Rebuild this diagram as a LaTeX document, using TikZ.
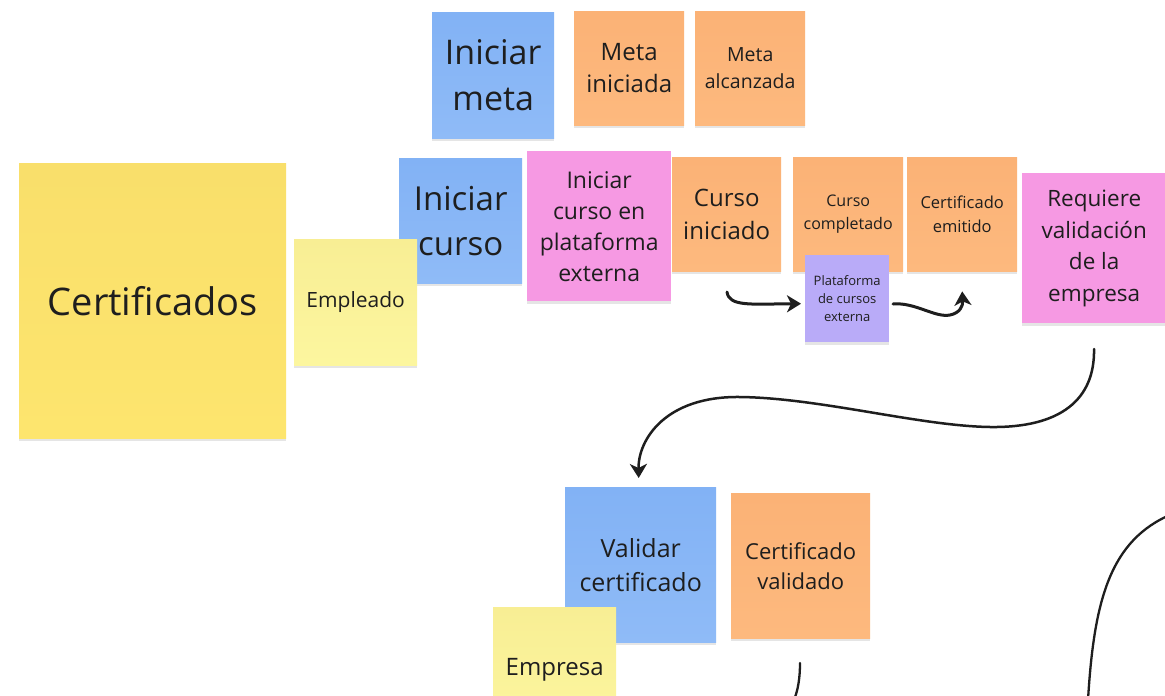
\documentclass[tikz,border=0pt]{standalone}
\usepackage{fontspec}
\setmainfont{Open Sans}
\usetikzlibrary{arrows.meta,shadows}
\definecolor{ink}{HTML}{1E1E1E}
\definecolor{cblue}{HTML}{82B2F5}
\definecolor{cblueb}{HTML}{8FBBF7}
\definecolor{corange}{HTML}{FBB276}
\definecolor{corangeb}{HTML}{FDB97E}
\definecolor{cpink}{HTML}{F699E3}
\definecolor{cyel}{HTML}{F9DF6B}
\definecolor{cyelb}{HTML}{FDE56E}
\definecolor{clyel}{HTML}{F8EE94}
\definecolor{clyelb}{HTML}{FCF69F}
\definecolor{cpurp}{HTML}{B9ABF8}
\tikzset{
  note/.style={anchor=north west, inner sep=0pt, align=center, text=ink,
    drop shadow={shadow xshift=0pt, shadow yshift=-3pt, opacity=0.10, fill=black}},
  bluenote/.style={note, top color=cblue, bottom color=cblueb},
  orangenote/.style={note, top color=corange, bottom color=corangeb},
  pinknote/.style={note, fill=cpink},
  yelnote/.style={note, top color=cyel, bottom color=cyelb},
  lyelnote/.style={note, top color=clyel, bottom color=clyelb},
  purpnote/.style={note, fill=cpurp},
  arr/.style={-{Stealth[length=14pt,width=17pt,inset=4pt]}, line width=3pt, line cap=round, draw=ink},
  lin/.style={line width=2.3pt, line cap=round, draw=ink},
}
\begin{document}
\begin{tikzpicture}[x=1pt,y=-1pt]
\useasboundingbox (0,0) rectangle (1165,696);
\clip (0,0) rectangle (1165,696);
\fill[white] (0,0) rectangle (1165,696);

\node[yelnote, minimum width=267pt, minimum height=275pt, font=\fontsize{38}{52}\selectfont] (cert) at (19,163) {Certificados};
\node[bluenote, minimum width=123pt, minimum height=125pt, font=\fontsize{33}{45}\selectfont] (icurso) at (399,158) {Iniciar\\curso};
\node[lyelnote, minimum width=123pt, minimum height=126pt, font=\fontsize{21}{29}\selectfont] (emp) at (294,239) {Empleado};
\node[bluenote, minimum width=122pt, minimum height=126pt, font=\fontsize{34}{46}\selectfont] (imeta) at (432,12) {Iniciar\\meta};
\node[orangenote, minimum width=110pt, minimum height=114pt, font=\fontsize{24}{32}\selectfont] (metai) at (574,11) {Meta\\iniciada};
\node[orangenote, minimum width=110pt, minimum height=114pt, font=\fontsize{19.5}{27}\selectfont] (metaa) at (695,11) {Meta\\alcanzada};
\node[pinknote, minimum width=144pt, minimum height=150pt, font=\fontsize{23}{31}\selectfont] (icpe) at (527,151) {Iniciar\\curso en\\plataforma\\externa};
\node[orangenote, minimum width=109pt, minimum height=114pt, font=\fontsize{24}{33}\selectfont] (cursoi) at (672,157) {Curso\\iniciado};
\node[orangenote, minimum width=110pt, minimum height=114pt, font=\fontsize{16}{23}\selectfont] (cursoc) at (793,157) {Curso\\completado};
\node[orangenote, minimum width=110pt, minimum height=114pt, font=\fontsize{16.5}{24}\selectfont] (certe) at (907,157) {Certificado\\emitido};
\node[purpnote, minimum width=84pt, minimum height=87pt, font=\fontsize{13}{18}\selectfont] (plat) at (805,255) {Plataforma\\de cursos\\externa};
\node[pinknote, minimum width=144pt, minimum height=150pt, font=\fontsize{22.5}{31.5}\selectfont] (req) at (1022,173) {Requiere\\validación\\de la\\empresa};
\node[bluenote, minimum width=151pt, minimum height=155pt, font=\fontsize{25}{34}\selectfont] (valc) at (565,487) {Validar\\certificado};
\node[orangenote, minimum width=139pt, minimum height=145pt, font=\fontsize{22}{30}\selectfont] (certv) at (731,493) {Certificado\\validado};
\node[lyelnote, minimum width=123pt, minimum height=126pt, font=\fontsize{24}{32}\selectfont] (empresa) at (493,607) {Empresa};

\coordinate (a1) at (727,292);
\coordinate (a2) at (893,304);
\coordinate (a3) at (1094,349);
\coordinate (a4) at (800,663);
\coordinate (a4e) at (794,700);
\coordinate (a5) at (1172,514);
\coordinate (a5e) at (1088,700);

\draw[arr] (a1) .. controls (729,307) and (752,304) .. ([xshift=-4pt,yshift=-5pt]plat.west);
\draw[arr] (a2) .. controls (915,302) and (935,318) .. (950,315) .. controls (960,313) and (963,306) .. ([yshift=-20pt]certe.south);
\draw[arr, line width=2.5pt] (a3) .. controls (1095,400) and (1060,428) .. (990,427) .. controls (920,426) and (820,398) .. (740,397) .. controls (665,396) and (638,440) .. ([xshift=-2pt,yshift=9pt]valc.north);
\draw[lin] (a4) .. controls (800,678) and (798,690) .. (a4e);
\draw[lin] (a5) .. controls (1110,540) and (1094,600) .. (a5e);
\end{tikzpicture}
\end{document}
